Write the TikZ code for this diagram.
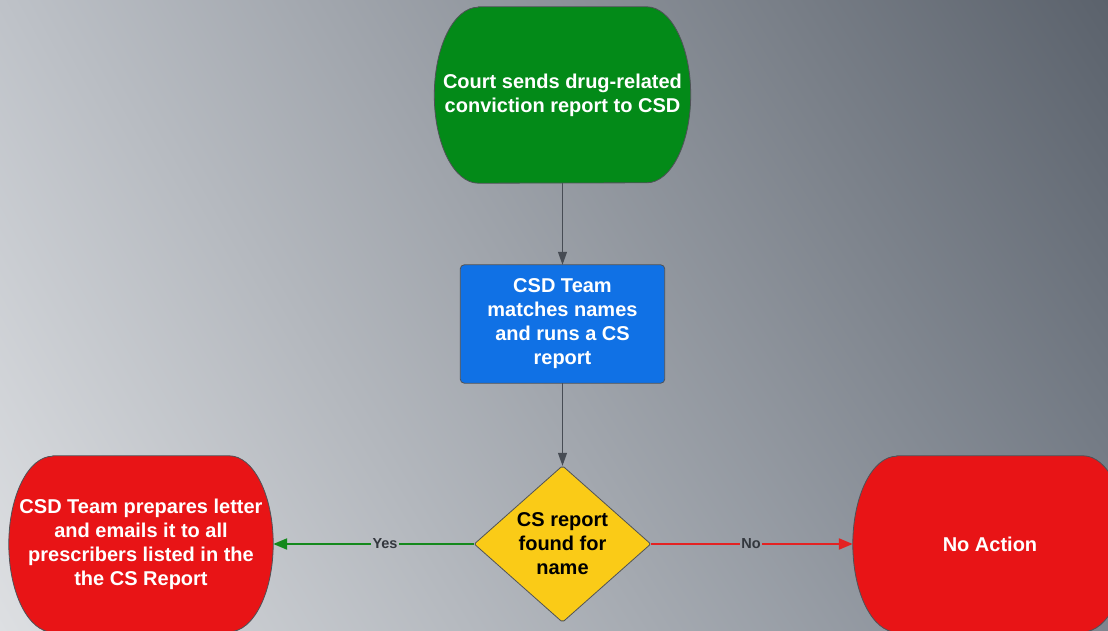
\documentclass[tikz,border=0pt]{standalone}
\usepackage{fontspec}
\setmainfont{Liberation Sans}
\usetikzlibrary{arrows.meta,shadings}

\pgfdeclarelayer{canvas}
\pgfdeclarelayer{shapes}
\pgfsetlayers{canvas,shapes,main}

\definecolor{bgLL}{HTML}{DDDFE2}
\definecolor{bgUL}{HTML}{BEC2C8}
\definecolor{bgUR}{HTML}{5B626C}
\definecolor{bgLR}{HTML}{7E858F}
\definecolor{startgreen}{HTML}{038A18}
\definecolor{stepblue}{HTML}{1071E5}
\definecolor{endred}{HTML}{E81416}
\definecolor{decideyellow}{HTML}{FACB17}
\definecolor{edgegray}{HTML}{4F5257}
\definecolor{arrowgray}{HTML}{474C54}
\definecolor{yesgreen}{HTML}{14891C}
\definecolor{nored}{HTML}{E42222}
\definecolor{labelgray}{HTML}{33373D}

\tikzset{
  x=1pt, y=1pt,
  boxtext/.style={inner sep=0pt, align=center, text=white,
    font=\bfseries\fontsize{20}{24}\selectfont},
  termnode/.style={boxtext, minimum width=#1, minimum height=176pt},
  outline/.style={draw=edgegray, line width=0.8pt},
  flowarrow/.style={draw=arrowgray, line width=1pt,
    -{Triangle[length=13pt,width=9pt]}},
  branch/.style={line width=2.2pt},
  branchtip/.style={-{Triangle[length=14pt,width=11pt]}},
  edgelabel/.style={inner sep=1.5pt, text=labelgray,
    font=\bfseries\fontsize{14.5}{18}\selectfont},
}

% terminator: flat top and bottom, half-elliptical ends
\newcommand\terminatorshape[2]{%
  \begin{pgfonlayer}{shapes}
    \draw[outline, fill=#2]
      ([xshift=44pt]#1.north west) -- ([xshift=-44pt]#1.north east)
      arc[start angle=90, end angle=-90, x radius=44pt, y radius=88pt]
      -- ([xshift=44pt]#1.south west)
      arc[start angle=270, end angle=90, x radius=44pt, y radius=88pt]
      -- cycle;
  \end{pgfonlayer}}

\begin{document}
\begin{tikzpicture}
  \clip (0,0) rectangle (1108,630);
  \begin{pgfonlayer}{canvas}
    \shade[lower left=bgLL, upper left=bgUL, upper right=bgUR, lower right=bgLR]
      (0,0) rectangle (1108,630);
  \end{pgfonlayer}

  % nodes
  \node[termnode=256pt] (court) at (562.5,535)
    {Court sends drug-related\\conviction report to CSD};
  \node[boxtext, minimum width=204pt, minimum height=118pt] (team) at (562.5,306)
    {CSD Team\\matches names\\and runs a CS\\report};
  \node[boxtext, text=black, minimum width=176pt, minimum height=156pt] (check) at (562.5,86)
    {CS report\\found for\\name};
  \node[termnode=264pt] (letter) at (141,86)
    {CSD Team prepares letter\\and emails it to all\\prescribers listed in the\\the CS Report};
  \node[termnode=274pt] (noaction) at (990,86) {No Action};

  % shapes behind the texts
  \terminatorshape{court}{startgreen}
  \terminatorshape{letter}{endred}
  \terminatorshape{noaction}{endred}
  \begin{pgfonlayer}{shapes}
    \draw[outline, fill=stepblue, rounded corners=4pt]
      (team.north west) rectangle (team.south east);
    \draw[outline, fill=decideyellow, rounded corners=2pt]
      (check.north) -- (check.east) -- (check.south) -- (check.west) -- cycle;
  \end{pgfonlayer}

  % connectors
  \draw[flowarrow] (court.south) -- (team.north);
  \draw[flowarrow] (team.south) -- (check.north);

  \node[edgelabel] (yes) at (385,86) {Yes};
  \node[edgelabel] (no) at (751,86) {No};
  \draw[branch, draw=yesgreen] (check.west) -- (yes.east);
  \draw[branch, branchtip, draw=yesgreen, fill=yesgreen] (yes.west) -- (letter.east);
  \draw[branch, draw=nored] (check.east) -- (no.west);
  \draw[branch, branchtip, draw=nored, fill=nored] (no.east) -- (noaction.west);
\end{tikzpicture}
\end{document}
